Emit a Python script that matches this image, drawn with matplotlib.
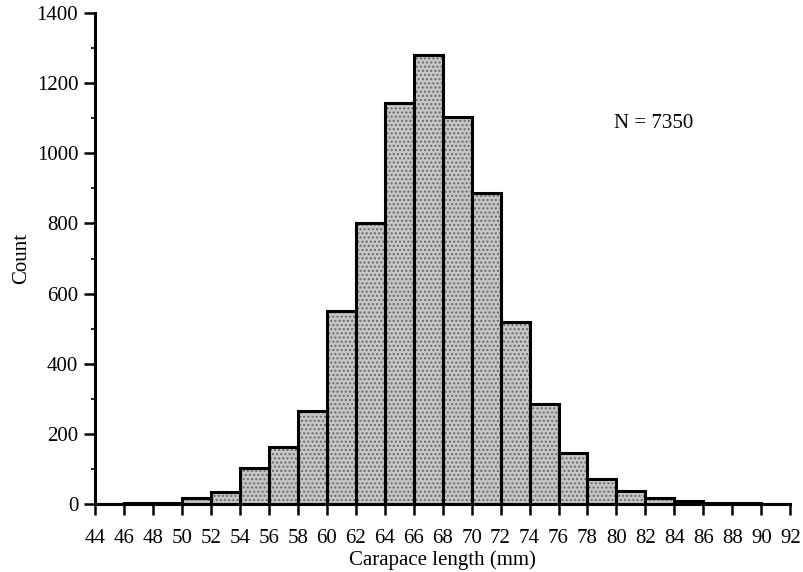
import matplotlib.pyplot as plt
import numpy as np
from matplotlib.ticker import MultipleLocator

# bin edges (mm) and counts per 2 mm bin
edges = [44,46,48,50,52,54,56,58,60,62,64,66,68,70,72,74,76,78,80,82,84,86,88,90,92]
counts = [1,3,4,17,33,102,163,265,551,800,1145,1281,1104,887,518,284,145,72,38,17,7,3,2,1]
xticks = list(range(44,93,2))
yticks = [0,200,400,600,800,1000,1200,1400]

plt.rcParams['font.family'] = ['Liberation Serif', 'DejaVu Serif']

fig = plt.figure(figsize=(8.04,5.72), dpi=100)
ax = fig.add_axes([0.118,0.119,0.865,0.858])

left = np.array(edges[:-1])
width = np.diff(edges)
# stippled grey fill
ax.bar(left, counts, width=width, align='edge', color='#c6c6c6', edgecolor='#6a6a6a',
       hatch='....', linewidth=0)
# black outlines
ax.bar(left, counts, width=width, align='edge', fill=False, edgecolor='black', linewidth=2.2)

ax.set_xlim(44,92)
ax.set_ylim(0,1400)
ax.set_xticks(xticks)
ax.set_yticks(yticks)
ax.yaxis.set_minor_locator(MultipleLocator(100))
ax.tick_params(axis='both', which='major', direction='out', length=8, width=1.8,
               labelsize=15, pad=4)
ax.tick_params(axis='x', which='major', pad=10)
ax.tick_params(axis='y', which='minor', direction='out', length=3, width=1.2)
ax.spines['top'].set_visible(False)
ax.spines['right'].set_visible(False)
ax.spines['left'].set_linewidth(2.2)
ax.spines['bottom'].set_linewidth(2.2)

ax.set_xlabel("Carapace length (mm)", fontsize=15, labelpad=2)
ax.set_ylabel("Count", fontsize=15, labelpad=4)
ax.text(79.8, 1084, "N = 7350", fontsize=15, va='center', ha='left')

plt.savefig("out.png", dpi=100)
